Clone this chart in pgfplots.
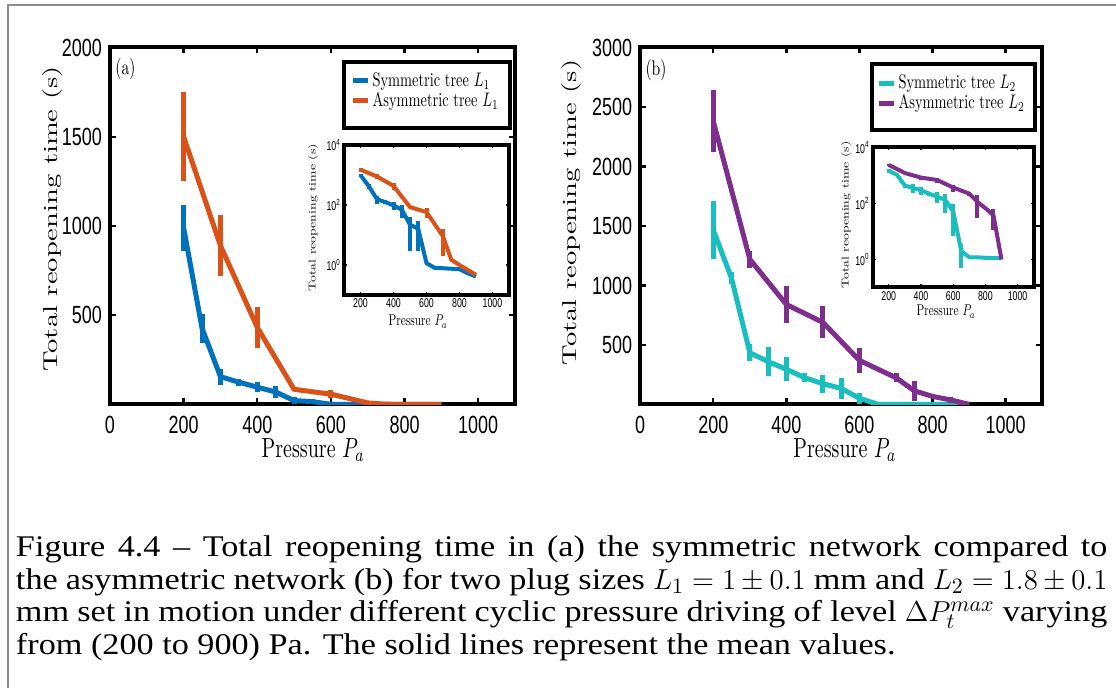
\documentclass[border=0pt]{standalone}
\usepackage{pgfplots}
\pgfplotsset{compat=1.18}
\usepackage{pgfplotstable}
\usepackage{graphicx}
\usepackage{fontspec}
\newfontfamily\helv{Liberation Sans}
\newfontfamily\capfont{Liberation Serif}[FakeStretch=1.14]

\definecolor{mblue}{rgb}{0,0.447,0.741}
\definecolor{morange}{rgb}{0.85,0.325,0.098}
\definecolor{mpurple}{rgb}{0.494,0.184,0.556}
\definecolor{mcyan}{rgb}{0.1,0.75,0.75}

% ---- data: x = pressure (Pa), y = mean total reopening time (s), e = error
\pgfplotstableread{
x y e
200 990 130
250 427 80
300 156 45
350 125 20
400 97 28
450 70 32
500 22 19
550 16 13
600 1.15 0
650 0.8 0
700 0.78 0
750 0.75 0
800 0.72 0
850 0.53 0
900 0.41 0
}\symA
\pgfplotstableread{
x y e
200 1500 250
300 890 170
400 432 115
500 85 0
600 58 22
700 9 7
750 1.5 0
800 1.0 0
900 0.47 0
}\asymA
\pgfplotstableread{
x y e
200 1466 240
250 1060 50
300 435 70
350 360 120
400 296 100
450 225 40
500 175 75
550 135 88
600 52 45
650 2 1.5
700 1.2 0
750 1.2 0
800 1.15 0
850 1.15 0
900 1.1 0
}\symB
\pgfplotstableread{
x y e
200 2380 260
300 1220 70
400 840 155
500 690 135
600 370 105
700 225 40
750 115 85
800 68 0
850 38 27
900 1.0 0
}\asymB

\newcommand{\legtext}[1]{\fontsize{10}{12}\selectfont\scalebox{0.72}[0.98]{#1}}

\pgfplotsset{
  /pgf/number format/1000 sep={},
  mainax/.style={
    scale only axis, anchor=south west,
    xmin=0, xmax=1100, ymin=0,
    xtick={0,200,...,1000},
    axis line style={line width=2pt, black},
    tick align=inside, major tick length=3pt,
    tick style={line width=1.2pt, black},
    xticklabel style={font=\helv\fontsize{9}{10}\selectfont, inner sep=1pt, yshift=-4.5pt},
    yticklabel style={font=\helv\fontsize{9}{10}\selectfont, xshift=-0.5pt},
    xticklabel={\scalebox{1}[1.38]{\pgfmathprintnumber[assume math mode=true]{\tick}}},
    yticklabel={\scalebox{1}[1.38]{\pgfmathprintnumber[assume math mode=true]{\tick}}},
    legend cell align=left,
    legend image code/.code={\draw[line width=2.5pt,##1] (0pt,0pt) -- (7.5pt,0pt);},
    legend style={draw=none, fill=none, anchor=north west,
      inner sep=0pt, row sep=1.5pt,
      nodes={inner ysep=0pt, inner xsep=0.8pt}},
  },
  insetax/.style={
    scale only axis, anchor=south west,
    xmin=100, xmax=1100, ymin=0.1, ymax=10000,
    xtick={200,400,...,1000}, ytick={1,100,10000},
    axis line style={line width=2pt, black},
    tick align=inside, major tick length=1.5pt,
    tick style={line width=0.6pt, black},
    xticklabel style={font=\helv\fontsize{4.4}{5}\selectfont, inner sep=0.6pt, yshift=-1.2pt},
    yticklabel style={font=\helv\fontsize{4.4}{5}\selectfont, inner sep=0.6pt, xshift=-0.8pt},
    xticklabel={\scalebox{1}[1.45]{\pgfmathprintnumber[assume math mode=true]{\tick}}},
    yticklabels={\scalebox{1}[1.45]{10\textsuperscript{0}},\scalebox{1}[1.45]{10\textsuperscript{2}},\scalebox{1}[1.45]{10\textsuperscript{4}}},
  },
}

\begin{document}
\begin{tikzpicture}
\useasboundingbox (0,0) rectangle (558pt,-344pt);
\fill[white] (0,0) rectangle (558pt,-344pt);
\draw[black!45, line width=0.6pt] (4pt,-344pt) -- (4pt,-2.5pt) -- (558pt,-2.5pt);

% ---------------- (a) main
\begin{axis}[mainax, at={(55pt,-202.25pt)}, width=202.5pt, height=178.5pt,
  ymax=2000, ytick={500,1000,1500,2000},
  legend style={at={(axis description cs:0.594,0.931)}}]
\addplot[line width=2.5pt, mblue, line join=round,
  error bars/.cd, y dir=both, y explicit, error mark=none,
  error bar style={line width=2.5pt, mblue}] table[x=x, y=y, y error=e] {\symA};
\addlegendentry{\legtext{Symmetric tree $L_1$}}
\addplot[line width=2.5pt, morange, line join=round,
  error bars/.cd, y dir=both, y explicit, error mark=none,
  error bar style={line width=2.5pt, morange}] table[x=x, y=y, y error=e] {\asymA};
\addlegendentry{\legtext{Asymmetric tree $L_1$}}
\end{axis}
\draw[line width=2pt] (172pt,-30.85pt) rectangle (255pt,-64.15pt);

% ---------------- (a) inset
\fill[white] (172pt,-147.5pt) rectangle (254.5pt,-72.5pt);
\begin{axis}[ymode=log, insetax, at={(172pt,-147.5pt)}, width=82.5pt, height=75pt]
\addplot[line width=2pt, mblue, line join=round,
  error bars/.cd, y dir=both, y explicit, error mark=none,
  error bar style={line width=2pt, mblue}] table[x=x, y=y, y error=e] {\symA};
\addplot[line width=2pt, morange, line join=round,
  error bars/.cd, y dir=both, y explicit, error mark=none,
  error bar style={line width=2pt, morange}] table[x=x, y=y, y error=e] {\asymA};
\end{axis}

% ---------------- (b) main
\begin{axis}[mainax, at={(320.1pt,-202.25pt)}, width=201pt, height=178.5pt,
  ymax=3000, ytick={500,1000,1500,2000,2500,3000},
  legend style={at={(axis description cs:0.588,0.924)}}]
\addplot[line width=2.5pt, mcyan, line join=round,
  error bars/.cd, y dir=both, y explicit, error mark=none,
  error bar style={line width=2.5pt, mcyan}] table[x=x, y=y, y error=e] {\symB};
\addlegendentry{\legtext{Symmetric tree $L_2$}}
\addplot[line width=2.5pt, mpurple, line join=round,
  error bars/.cd, y dir=both, y explicit, error mark=none,
  error bar style={line width=2.5pt, mpurple}] table[x=x, y=y, y error=e] {\asymB};
\addlegendentry{\legtext{Asymmetric tree $L_2$}}
\end{axis}
\draw[line width=2pt] (436.15pt,-32.15pt) rectangle (517.5pt,-65pt);

% ---------------- (b) inset
\fill[white] (436.35pt,-143.75pt) rectangle (516.85pt,-73.75pt);
\begin{axis}[ymode=log, insetax, at={(436.35pt,-143.75pt)}, width=80.5pt, height=70pt]
\addplot[line width=2pt, mcyan, line join=round,
  error bars/.cd, y dir=both, y explicit, error mark=none,
  error bar style={line width=2pt, mcyan}] table[x=x, y=y, y error=e] {\symB};
\addplot[line width=2pt, mpurple, line join=round,
  error bars/.cd, y dir=both, y explicit, error mark=none,
  error bar style={line width=2pt, mpurple}] table[x=x, y=y, y error=e] {\asymB};
\end{axis}

% ---------------- labels
\node[rotate=90, anchor=center] at (26pt,-109.5pt) {\fontsize{10}{12}\selectfont\scalebox{1.43}[1]{Total reopening time (s)}};
\node[rotate=90, anchor=center] at (285.5pt,-106.25pt) {\fontsize{10}{12}\selectfont\scalebox{1.43}[1]{Total reopening time (s)}};
\node[anchor=base, inner sep=1pt] at (156.65pt,-228.6pt) {\fontsize{10}{12}\selectfont\scalebox{1}[1.38]{Pressure $P_a$}};
\node[anchor=base, inner sep=1pt] at (422.5pt,-228.9pt) {\fontsize{10}{12}\selectfont\scalebox{1}[1.38]{Pressure $P_a$}};
\node[anchor=center] at (62.7pt,-34.65pt) {\fontsize{10}{12}\selectfont\scalebox{0.78}[1.06]{(a)}};
\node[anchor=center] at (328pt,-35pt) {\fontsize{10}{12}\selectfont\scalebox{0.78}[1.06]{(b)}};
% inset labels
\node[rotate=90, anchor=center] at (156.5pt,-108.75pt) {\fontsize{10}{12}\selectfont\scalebox{0.69}[0.5]{Total reopening time (s)}};
\node[rotate=90, anchor=center] at (423pt,-107.5pt) {\fontsize{10}{12}\selectfont\scalebox{0.69}[0.5]{Total reopening time (s)}};
\node[anchor=base] at (209pt,-163pt) {\fontsize{10}{12}\selectfont\scalebox{0.57}[0.78]{Pressure $P_a$}};
\node[anchor=base] at (473pt,-158pt) {\fontsize{10}{12}\selectfont\scalebox{0.57}[0.78]{Pressure $P_a$}};

% ---------------- caption
\begin{scope}[every node/.style={anchor=base west, inner sep=0pt}]
\node at (7.8pt,-278.35pt) {\capfont\fontsize{15}{16.25}\selectfont\hbox to 545.7pt{Figure 4.4 – Total reopening time in (a) the symmetric network compared to}};
\node at (7.8pt,-294.6pt) {\capfont\fontsize{15}{16.25}\selectfont\hbox to 545.7pt{the asymmetric network (b) for two plug sizes $L_1 = 1\pm0.1$ mm and $L_2 = 1.8\pm0.1$}};
\node at (7.8pt,-310.85pt) {\capfont\fontsize{15}{16.25}\selectfont\hbox to 545.7pt{mm set in motion under different cyclic pressure driving of level \smash{$\Delta P_t^{max}$} varying}};
\node at (7.8pt,-327.1pt) {\capfont\fontsize{15}{16.25}\selectfont from (200 to 900) Pa. The solid lines represent the mean values.};
\end{scope}
\end{tikzpicture}
\end{document}
